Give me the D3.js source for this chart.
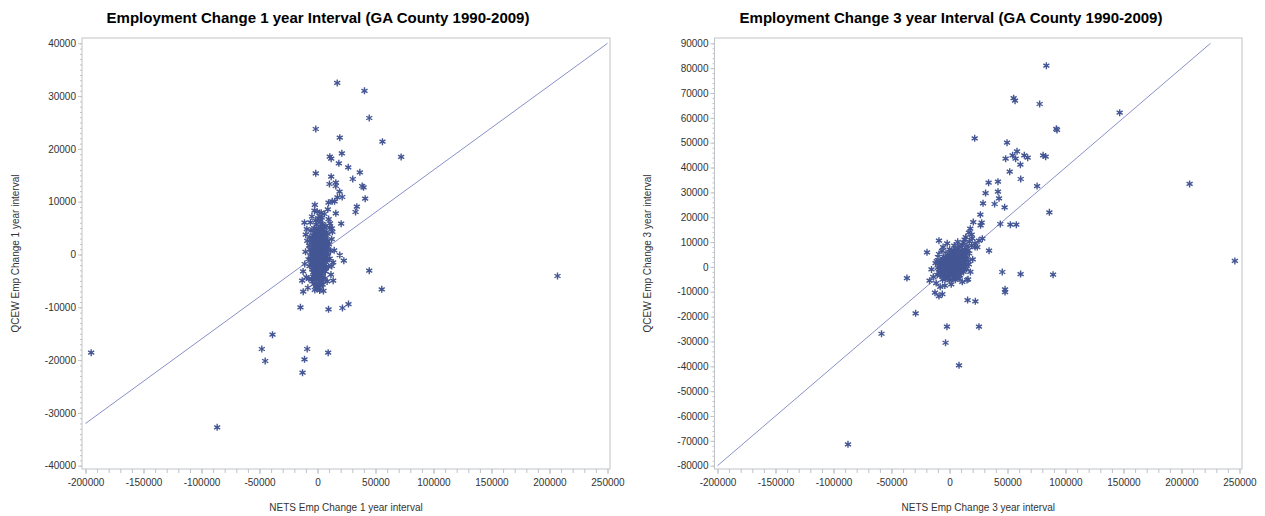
<!DOCTYPE html>
<html>
<head>
<meta charset="utf-8">
<script src="https://cdn.jsdelivr.net/npm/d3@7"></script>
<style>
  html, body { margin: 0; padding: 0; background: #fff; }
  svg { display: block; font-family: "Liberation Sans", Arial, sans-serif; }
</style>
</head>
<body>
<svg id="chart" width="1265" height="516"></svg>
<script>
// ---- 1 year interval panel ----
const titles1 = "Employment Change 1 year Interval (GA County 1990-2009)";
const xLabel1 = "NETS Emp Change 1 year interval";
const yLabel1 = "QCEW Emp Change 1 year interval";
const xTicks1 = [-200000, -150000, -100000, -50000, 0, 50000, 100000, 150000, 200000, 250000];
const yTicks1 = [-40000, -30000, -20000, -10000, 0, 10000, 20000, 30000, 40000];
const fitLine1 = [[-200000, -32000], [250000, 40000]];

// counties far from the main group (NETS change, QCEW change)
const outliers1 = [
  [17000,32500],[40500,31000],[44600,25850],[-1500,23770],[19200,22120],[56000,21370],[72100,18470],
  [21000,19170],[10600,18520],[11800,18150],[18400,17270],[26500,16510],[36500,15570],[-1500,15380],
  [11800,14740],[30400,14300],[10300,13350],[15800,13600],[15800,12970],[38500,12970],[39700,12730],
  [19000,11900],[17200,10830],[21300,10890],[41100,10570],[9500,9810],[12700,10080],[14700,10080],
  [33900,9050],[32800,8050],[-2300,9380],[8900,8560],[-300,8110],[3200,7920],[6000,7670],[2000,7290],
  [15800,7800],[2600,6530],[20400,5830],[-11200,6030],[10600,5080],[12300,4960],[-10100,3750],[5500,5270],
  [19200,-100],[22700,-1170],[12300,-2180],[44600,-3070],[13500,-4960],[-13200,-4960],[55400,-6590],
  [-12300,-7050],[-14700,-10000],[9500,-10380],[21500,-10130],[26700,-9380],[-38800,-15190],
  [-48000,-17900],[-8900,-17900],[-45100,-20170],[-11200,-19850],[9200,-18600],[-12900,-22390],
  [-195100,-18600],[-86500,-32730],[206900,-4070]
];

// counties near zero change
const cluster1 = [
  [-3800,-4200],[-2100,-3900],[-600,-4500],[1200,-4100],[2900,-3600],[4300,-4300],[5600,-3100],
  [-4500,-2800],[-2700,-2500],[-900,-3000],[800,-2600],[2500,-2200],[3900,-2900],[6100,-1800],[7400,-2400],
  [-5200,-1500],[-3300,-1200],[-1500,-1700],[300,-1300],[1800,-900],[3400,-1500],[4800,-800],[6600,-600],
  [8200,-1100],[-6100,-300],[-4100,200],[-2400,-400],[-700,100],[1000,-200],[2600,400],[4100,-100],
  [5500,600],[7100,300],[9000,-300],[-5400,900],[-3500,1300],[-1800,800],[-200,1500],[1500,1100],
  [3100,1700],[4600,1000],[6200,1600],[7900,1200],[-4700,2300],[-2800,2700],[-1000,2100],[700,2900],
  [2300,2400],[3800,3000],[5300,2300],[6900,2800],[8600,2600],[-3900,3600],[-2000,4100],[-400,3400],
  [1300,4000],[2900,3700],[4500,4300],[6000,3500],[7600,4200],[-2800,5000],[-800,5600],[1000,4900],
  [2700,5300],[4200,5800],[5800,5100],[-1500,6400],[600,6900],[2200,6200],[3600,7000],[-3000,-5600],
  [-1200,-5900],[900,-5400],[2800,-5200],[-4400,-5100],[-6800,-2200],[-7200,1700],[-6500,3300],
  [9800,1900],[10500,-800],[8700,3900],[-500,-6500],[1900,-6800],[4400,-5700],[-2300,-6700],[6500,-4500],
  [-7800,-900],[11200,700],[9400,-2300],[-5600,4500],[7200,5400],[200,-3500],[1700,-2900],[-1600,-2200],
  [3200,-400],[-3100,-300],[5100,-2400],[-200,-900],[2000,1900],[-1300,3000],[4000,2000],[600,300],
  [-2600,1600],[3600,-3000],[-3600,-3400],[1400,-1600],[5900,-1200],[-800,-2400],[2300,-1000],
  [-4200,700],[300,2400],[3300,500],[-1900,-500],[4900,3300],[-300,600],[1100,1800],[2600,3200],
  [-2200,3500],[6400,1900],[7800,-300],[-9600,-4300],[-11000,-1800],[-8800,2600],[-10300,500],
  [12200,2900],[13500,-1500],[11600,-3800],[-7400,-4600],[8300,-5100],[-9200,4800],[10800,5900],
  [-6100,6100],[12800,4300],[-12400,-3200],[14400,800],[9600,6700],[-4800,7200],[-8300,-6300],
  [5100,-6900],[-2600,8300],
  [-5000,-4600],[-1400,-4800],[2000,-4500],[5000,-4800],[-3200,-3000],[-200,-3300],[3000,-2600],
  [6800,-3200],[-4800,-2000],[-2000,-1400],[700,-1900],[4000,-1900],[7000,-1400],[-5800,-800],
  [-3900,-600],[-1000,-500],[1700,-300],[3900,600],[6000,-100],[8600,400],[-5000,400],[-2900,800],
  [-900,1200],[700,900],[2400,1300],[5300,1400],[7300,2000],[-4000,1800],[-1700,1900],[1200,2400],
  [3500,2300],[5800,2900],[-3300,2900],[-500,2600],[2000,3200],[4200,3600],[-1200,4200],[700,3700],
  [3500,4600],[5400,4200],[-200,4600],[2000,4500],[-2900,-4300],[400,-4300],[3600,-4000],[-3900,-1900],
  [4500,-3300],[-2500,-3600],[1600,-3400],[-4400,-800],[8000,2000],[6800,-2600],[-6500,1000],
  [-5300,2800],[9000,1000],[-1000,-6000],[3000,-5900],[1400,-6300],[-3500,4600],[7000,3200]
];

// ---- 3 year interval panel ----
const titles3 = "Employment Change 3 year Interval (GA County 1990-2009)";
const xLabel3 = "NETS Emp Change 3 year interval";
const yLabel3 = "QCEW Emp Change 3 year interval";
const xTicks3 = [-200000, -150000, -100000, -50000, 0, 50000, 100000, 150000, 200000, 250000];
const yTicks3 = [-80000, -70000, -60000, -50000, -40000, -30000, -20000, -10000, 0, 10000, 20000,
                 30000, 40000, 50000, 60000, 70000, 80000, 90000];
const fitLine3 = [[-200000, -80000], [225000, 90000]];

const outliers3 = [
  [83500,81000],[55300,67900],[56500,66900],[77700,65570],[146700,62060],[92100,55600],[92700,55100],
  [21700,51760],[49600,50000],[58200,46530],[54400,44920],[48400,43560],[57000,43560],[64500,44920],
  [67400,43950],[80700,44920],[82900,44360],[61100,41140],[51900,38320],[61400,35380],[33700,33890],
  [41800,34290],[75500,32560],[31100,29740],[41800,30270],[42700,27610],[28900,25600],[38900,25320],
  [47500,23990],[86100,21980],[26600,21010],[20500,18070],[27700,17790],[26800,16740],[43800,17270],
  [52500,16990],[57600,16990],[17900,15380],[16800,13770],[19100,12960],[-9100,10550],[25400,10550],
  [28300,11350],[34100,6520],[-19400,5880],[-36700,-4470],[-17200,-5550],[45500,-2050],[61300,-2860],
  [89300,-3140],[47900,-9020],[47900,-10100],[-12500,-10380],[-9100,-11710],[-6200,-10910],
  [15600,-13320],[22300,-13850],[-29200,-18680],[-2200,-24070],[25400,-24070],[-58600,-26890],
  [-3400,-30510],[8200,-39610],[-87500,-71400],[207000,33400],[246000,2400],
  [22000,9500],[24000,8000],[13000,11000],[-2000,9500],[-5500,8000],[15100,-5270]
];

const cluster3 = [
  [-6000,-5100],[-3100,-4800],[200,-5300],[2400,-4900],[5100,-5200],[8200,-4700],
  [-8100,-3400],[-5400,-3700],[-2600,-3300],[600,-3600],[3100,-3300],[5900,-3700],[9100,-3400],
  [-9200,-2100],[-6400,-1800],[-4100,-2200],[-1400,-1900],[1100,-2100],[3600,-1800],[6400,-2200],
  [9600,-1900],[12100,-2000],[-10100,-400],[-7400,-700],[-5100,-300],[-2600,-600],[100,-400],
  [2400,-700],[5100,-300],[7600,-600],[10100,-400],[13100,-500],[-8600,1100],[-5900,900],[-3600,1200],
  [-900,800],[1600,1100],[3900,900],[6600,1200],[8900,900],[11600,1100],[14100,900],[-7100,2600],
  [-4400,2300],[-2100,2700],[600,2400],[3100,2600],[5400,2300],[8100,2700],[10400,2400],[13100,2600],
  [16100,2400],[-5100,4100],[-2400,3800],[100,4200],[2600,3900],[5100,4100],[7400,3800],[10100,4200],
  [12600,3900],[15100,4100],[-3100,5600],[100,5300],[3100,5700],[6100,5400],[8900,5600],[11600,5300],
  [14100,5700],[17100,5400],[100,7100],[3600,6800],[7100,7200],[10100,6900],[13100,7100],[16100,6800],
  [4100,8600],[8100,8400],[11100,8700],[15100,8400],[19100,8600],[7100,10100],[12100,9800],[17100,10200],
  [-14000,-4000],[-11500,-6500],[-12000,1500],[-10000,4000],[-6500,6500],[18000,-2000],[20000,3000],
  [22000,8000],[16000,-5000],[-4000,-7500],[1500,-7000],[11000,-6000],[-15500,-1000],[19500,11500],
  [14000,12000],[-8000,-8000],
  [-1200,-1000],[1900,300],[4300,-1000],[-3300,200],[2300,-2800],[7000,1900],[-600,3100],[4700,3200],
  [9300,2800],[-7600,-2600],[600,-1200],[6200,-400],[-4600,1700],[2000,5000],[11300,6000],[-1900,-4100],
  [-7600,-1200],[-4600,-1000],[-1900,-1200],[900,-1300],[3600,-1100],[6900,-1300],[10900,-1200],
  [-8300,300],[-6100,400],[-3700,-200],[-1300,300],[1000,300],[3400,400],[6000,500],[8500,200],
  [11400,300],[-7300,1800],[-4900,1600],[-2500,1800],[-100,1600],[2300,1700],[4600,1800],[7300,1600],
  [9800,1800],[12500,1700],[-5900,3200],[-3300,3000],[-1000,3300],[1400,3100],[3900,3200],[6300,3000],
  [8800,3300],[11300,3200],[13800,3100],[-1700,4700],[1200,4600],[4000,4800],[6800,4600],[9500,4800],
  [12300,4700],[1700,6200],[5000,6100],[8300,6300],[11800,6200],[-5200,-2700],[-2200,-2800],[700,-2700],
  [4200,-2600],[7400,-2800],[-3700,-4200],[-900,-4400],[3800,-4200],[6600,-4000],[-10500,-3200],
  [14800,-700],[16600,1000],[-11000,2300],[-9100,5200]
];

const svg = d3.select("#chart");
const markerColor = "#445694";
const lineColor = "#8990C6";
const frameColor = "#BFC3C8";
const textColor = "#333333";
const fmt = d => String(d);

// six-armed asterisk used for every observation
const asterisk = {
  draw(ctx, size) {
    const r = Math.sqrt(size) / 2;
    for (let k = 0; k < 3; k++) {
      const a = Math.PI / 2 + k * Math.PI / 3;
      ctx.moveTo(r * Math.cos(a), r * Math.sin(a));
      ctx.lineTo(-r * Math.cos(a), -r * Math.sin(a));
    }
  }
};
const symbolPath = d3.symbol().type(asterisk).size(49)();

function drawPanel(cfg) {
  const g = svg.append("g");
  const x = d3.scaleLinear().domain([-200000, 250000]).range(cfg.xRange);
  const y = d3.scaleLinear().domain(cfg.yDomain).range([465.7, 43.3]);
  const [fx0, fy0, fx1, fy1] = cfg.frame;

  // title
  g.append("text")
    .attr("x", cfg.titleX).attr("y", 23)
    .attr("text-anchor", "middle")
    .attr("font-size", 15).attr("font-weight", "bold").attr("fill", "#000")
    .attr("textLength", 423).attr("lengthAdjust", "spacingAndGlyphs")
    .text(cfg.title);

  // minor ticks
  g.append("g").attr("transform", `translate(0,${fy1})`)
    .call(d3.axisBottom(x).tickValues(d3.range(-200000, 250001, 10000)).tickSize(4).tickFormat(""))
    .call(a => a.select(".domain").remove())
    .call(a => a.selectAll("line").attr("stroke", frameColor));
  g.append("g").attr("transform", `translate(${fx0},0)`)
    .call(d3.axisLeft(y).tickValues(d3.range(cfg.yDomain[0], cfg.yDomain[1] + 1, cfg.yMinor)).tickSize(2).tickFormat(""))
    .call(a => a.select(".domain").remove())
    .call(a => a.selectAll("line").attr("stroke", frameColor));

  // major ticks with labels
  g.append("g").attr("transform", `translate(0,${fy1})`)
    .call(d3.axisBottom(x).tickValues(cfg.xTicks).tickSize(5).tickPadding(5).tickFormat(fmt))
    .call(a => a.select(".domain").remove())
    .call(a => a.selectAll("line").attr("stroke", frameColor))
    .call(a => a.selectAll("text").attr("fill", textColor).attr("font-size", 10)
      .attr("font-family", "Liberation Sans, Arial, sans-serif"));
  g.append("g").attr("transform", `translate(${fx0},0)`)
    .call(d3.axisLeft(y).tickValues(cfg.yTicks).tickSize(4).tickPadding(2).tickFormat(fmt))
    .call(a => a.select(".domain").remove())
    .call(a => a.selectAll("line").attr("stroke", frameColor))
    .call(a => a.selectAll("text").attr("fill", textColor).attr("font-size", 10)
      .attr("font-family", "Liberation Sans, Arial, sans-serif"));

  // frame
  g.append("rect")
    .attr("x", fx0).attr("y", fy0).attr("width", fx1 - fx0).attr("height", fy1 - fy0)
    .attr("fill", "none").attr("stroke", frameColor).attr("stroke-width", 1);

  // axis labels
  g.append("text")
    .attr("x", (fx0 + fx1) / 2).attr("y", 511)
    .attr("text-anchor", "middle").attr("font-size", 10).attr("fill", textColor)
    .text(cfg.xLabel);
  g.append("text")
    .attr("transform", `translate(${cfg.yLabelX},${(fy0 + fy1) / 2}) rotate(-90)`)
    .attr("text-anchor", "middle").attr("font-size", 10).attr("fill", textColor)
    .text(cfg.yLabel);

  const clipId = "clip" + cfg.id;
  svg.append("clipPath").attr("id", clipId)
    .append("rect").attr("x", fx0).attr("y", fy0).attr("width", fx1 - fx0).attr("height", fy1 - fy0);

  const plot = g.append("g").attr("clip-path", `url(#${clipId})`);

  // fitted line
  plot.append("path")
    .datum(cfg.fit)
    .attr("d", d3.line().x(d => x(d[0])).y(d => y(d[1])))
    .attr("fill", "none").attr("stroke", lineColor).attr("stroke-width", 1);

  // points
  plot.selectAll("path.pt")
    .data(cfg.points)
    .join("path")
    .attr("class", "pt")
    .attr("d", symbolPath)
    .attr("transform", d => `translate(${x(d[0])},${y(d[1])})`)
    .attr("fill", "none").attr("stroke", markerColor).attr("stroke-width", 1.4);
}

drawPanel({
  id: 1, title: titles1, xLabel: xLabel1, yLabel: yLabel1,
  xTicks: xTicks1, yTicks: yTicks1, yDomain: [-40000, 40000], yMinor: 1000,
  xRange: [85.5, 607.5], frame: [82, 38, 610, 469], titleX: 318, yLabelX: 19,
  fit: fitLine1, points: cluster1.concat(outliers1)
});
drawPanel({
  id: 3, title: titles3, xLabel: xLabel3, yLabel: yLabel3,
  xTicks: xTicks3, yTicks: yTicks3, yDomain: [-80000, 90000], yMinor: 2000,
  xRange: [717.5, 1239.5], frame: [714.5, 38, 1242, 469], titleX: 951, yLabelX: 651,
  fit: fitLine3, points: cluster3.concat(outliers3)
});
</script>
</body>
</html>
